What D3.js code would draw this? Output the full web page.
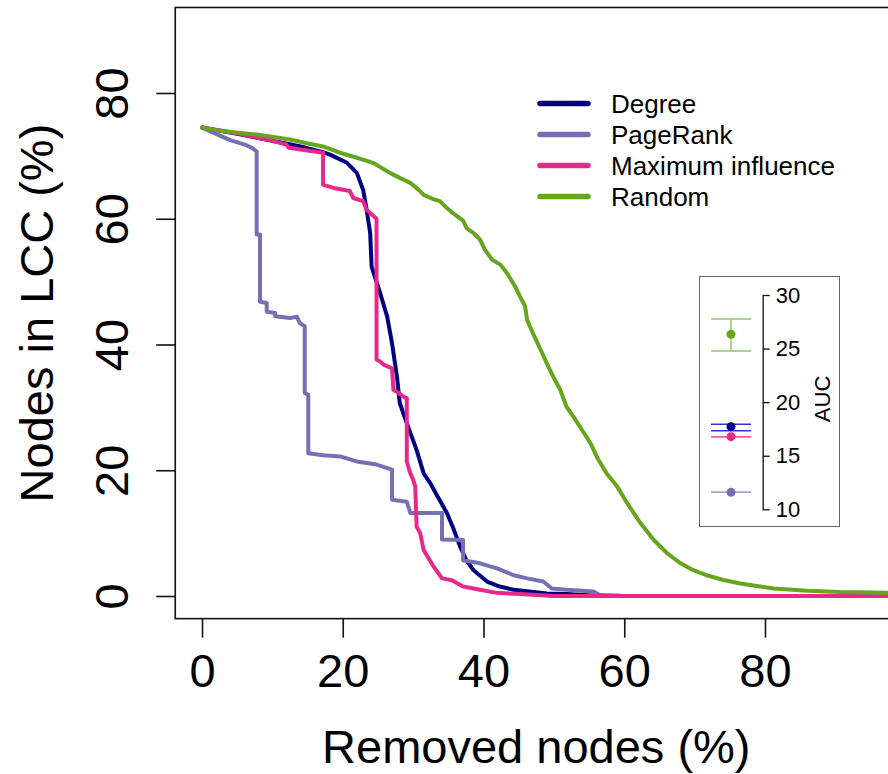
<!DOCTYPE html>
<html>
<head>
<meta charset="utf-8">
<script src="https://cdn.jsdelivr.net/npm/d3@7"></script>
<style>
  html, body { margin: 0; padding: 0; background: #fff; }
  svg { display: block; font-family: "Liberation Sans", Arial, Helvetica, sans-serif; }
</style>
</head>
<body>
<svg id="chart" width="888" height="774"></svg>
<script>
// Attack strategies, shown in legend order
const strategies = ["Degree", "PageRank", "Maximum influence", "Random"];
const colors = ["#000080", "#7570B3", "#E7298A", "#66A61E"];
const capColors = ["#3535c8", "#a7a4d4", "#ee5fa0", "#94c66a"];

// [removed nodes %, nodes in LCC %]
const degree = [[0,74.5],[5,73.5],[10,72.4],[14,71.5],[17.2,70.6],[18.2,70.2],[20.6,68.9],[22.0,67.3],[22.9,64.6],[23.4,61.4],[23.9,57.7],[24.1,52.4],[25.3,48.2],[26.3,44.5],[27.0,40.2],[27.7,34.9],[28.1,30.7],[29.1,27.5],[30.5,23.2],[31.5,19.5],[32.4,18.0],[33.4,16.0],[34.8,13.2],[35.7,10.8],[36.7,7.8],[37.6,5.6],[38.6,4.1],[40.5,2.3],[42.3,1.5],[44.3,1.0],[49.0,0.4],[51.8,0.3],[55,0.1],[60,0],[100,0]];

const pagerank = [[0,74.5],[4.0,72.5],[6.1,71.8],[7.06,71.3],[7.77,70.7],[7.77,57.5],[8.24,57.5],[8.24,46.8],[9.2,46.6],[9.2,45.2],[10.4,45.0],[10.4,44.5],[12.5,44.2],[13.5,44.4],[13.9,43.4],[14.6,42.9],[14.6,32.3],[15.1,32.0],[15.1,22.7],[17.2,22.4],[19.6,22.2],[22.0,21.4],[24.8,20.9],[27.0,20.1],[27.0,15.3],[29.1,15.0],[29.6,13.2],[34.1,13.2],[34.1,9.0],[37.1,8.9],[37.1,5.7],[39.5,5.2],[41.9,4.4],[44.3,3.3],[46.2,2.8],[48.5,2.3],[49.7,1.2],[51.8,1.0],[55.6,0.7],[56.6,0.1],[60,0],[100,0]];

const maxInfluence = [[0,74.5],[5,73.6],[10,72.4],[12.0,71.8],[12.3,71.3],[17.2,70.5],[17.2,65.4],[18.7,64.9],[21.0,64.4],[21.5,63.3],[22.9,62.8],[23.4,61.4],[23.9,60.9],[24.8,60.0],[24.8,37.6],[25.3,37.3],[25.8,36.8],[27.0,36.2],[27.2,32.8],[27.9,32.3],[28.9,31.5],[29.1,31.5],[29.1,21.4],[29.6,19.5],[30.0,18.5],[30.3,17.4],[30.5,11.0],[31.0,10.0],[31.5,7.3],[32.9,4.7],[34.1,2.8],[35.5,2.5],[37.1,1.5],[39.5,1.0],[41.9,0.5],[45.2,0.3],[50,0],[100,0]];

const random = [[0,74.5],[3.0,73.9],[7.8,73.4],[12.5,72.6],[14.9,72.0],[17.2,71.5],[19.6,70.5],[22.0,69.7],[24.3,68.9],[26.7,67.3],[28.1,66.5],[29.6,65.7],[30.8,64.6],[31.5,63.8],[32.9,63.1],[33.8,62.8],[34.8,61.7],[36.0,60.6],[37.1,59.7],[37.6,58.5],[38.6,57.7],[39.5,56.7],[40.2,55.1],[41.2,53.5],[42.4,52.7],[43.3,51.4],[44.5,49.2],[45.2,47.6],[45.9,46.1],[46.2,43.9],[46.9,42.1],[48.1,39.2],[49.0,37.0],[49.9,34.9],[50.9,32.8],[51.8,30.1],[52.8,28.5],[54.0,26.4],[55.2,24.3],[56.3,21.7],[57.5,19.5],[59.0,17.4],[60.4,14.8],[62.3,11.6],[64.2,8.9],[66.1,6.8],[68.0,5.2],[69.8,4.1],[71.7,3.3],[74.1,2.55],[76.5,2.0],[78.8,1.6],[81.2,1.2],[86.0,0.85],[90.7,0.64],[97.5,0.53],[100,0.5]];

const seriesData = [degree, pagerank, maxInfluence, random];

// Area under the curve per strategy: mean, lower, upper
const aucMean  = [17.71, 11.58, 16.78, 26.33];
const aucLower = [17.32, 11.58, 16.78, 24.77];
const aucUpper = [17.94, 11.58, 16.78, 27.76];

const xTicks = [0, 20, 40, 60, 80];
const yTicks = [0, 20, 40, 60, 80];
const aucTicks = [10, 15, 20, 25, 30];

const svg = d3.select("#chart");

// Main panel scales (axis limits 0-95 and 0-90, each padded by 4%)
const x = d3.scaleLinear().domain([0, 80]).range([202, 765]);
const y = d3.scaleLinear().domain([0, 80]).range([596, 93]);
const xLim = [0, 95], yLim = [0, 90];
const xPad = (xLim[1] - xLim[0]) * 0.04, yPad = (yLim[1] - yLim[0]) * 0.04;
const box = {
  x0: x(xLim[0] - xPad), x1: x(xLim[1] + xPad),
  y0: y(yLim[1] + yPad), y1: y(yLim[0] - yPad)
};

svg.append("clipPath").attr("id", "plotClip")
  .append("rect")
  .attr("x", box.x0).attr("y", box.y0)
  .attr("width", box.x1 - box.x0).attr("height", box.y1 - box.y0);

// Curves
const line = d3.line().x(d => x(d[0])).y(d => y(d[1]));
const curves = svg.append("g").attr("clip-path", "url(#plotClip)");
seriesData.forEach((s, i) => {
  curves.append("path")
    .datum(s)
    .attr("d", line)
    .attr("fill", "none")
    .attr("stroke", colors[i])
    .attr("stroke-width", 4)
    .attr("stroke-linejoin", "round")
    .attr("stroke-linecap", "round");
});

// Plot frame
svg.append("rect")
  .attr("x", box.x0).attr("y", box.y0)
  .attr("width", box.x1 - box.x0).attr("height", box.y1 - box.y0)
  .attr("fill", "none").attr("stroke", "#111").attr("stroke-width", 1.6);

// Y axis
const yAxis = svg.append("g")
  .attr("transform", `translate(${box.x0},0)`)
  .call(d3.axisLeft(y).tickValues(yTicks).tickSize(19).tickSizeOuter(0));
yAxis.select(".domain").remove();
yAxis.selectAll(".tick line").attr("stroke", "#111").attr("stroke-width", 1.6);
yAxis.selectAll(".tick text")
  .attr("x", null).attr("dy", null)
  .attr("text-anchor", "middle")
  .attr("transform", "translate(-47,0) rotate(-90)")
  .attr("fill", "#000")
  .style("font-size", "47px");

// X axis
const xAxis = svg.append("g")
  .attr("transform", `translate(0,${box.y1})`)
  .call(d3.axisBottom(x).tickValues(xTicks).tickSize(19).tickSizeOuter(0));
xAxis.select(".domain").remove();
xAxis.selectAll(".tick line").attr("stroke", "#111").attr("stroke-width", 1.6);
xAxis.selectAll(".tick text")
  .attr("y", 68).attr("dy", null)
  .attr("fill", "#000")
  .style("font-size", "47px");

// Axis titles
svg.append("text")
  .attr("x", (box.x0 + box.x1) / 2).attr("y", 763)
  .attr("text-anchor", "middle")
  .style("font-size", "47px")
  .text("Removed nodes (%)");

svg.append("text")
  .attr("transform", `translate(53,${(box.y0 + box.y1) / 2}) rotate(-90)`)
  .attr("text-anchor", "middle")
  .style("font-size", "47px")
  .text("Nodes in LCC (%)");

// Legend
const legendY = d3.scaleLinear().domain([0, 1]).range([103.5, 134.5]);
const legend = svg.append("g");
strategies.forEach((name, i) => {
  legend.append("line")
    .attr("x1", 540).attr("x2", 588)
    .attr("y1", legendY(i)).attr("y2", legendY(i))
    .attr("stroke", colors[i]).attr("stroke-width", 5.5)
    .attr("stroke-linecap", "round");
  legend.append("text")
    .attr("x", 611).attr("y", legendY(i) + 9)
    .style("font-size", "26px")
    .text(name);
});

// AUC inset
const inset = svg.append("g");
inset.append("rect")
  .attr("x", 699.5).attr("y", 276.5).attr("width", 140).attr("height", 250)
  .attr("fill", "#fff").attr("stroke", "#666").attr("stroke-width", 1);

const aucY = d3.scaleLinear().domain([10, 30]).range([509.3, 295]);
const aucX = 731;
const capHalf = 20;

const aucAxis = inset.append("g")
  .attr("transform", "translate(762.7,0)")
  .call(d3.axisRight(aucY).tickValues(aucTicks).tickSize(7).tickSizeOuter(0).tickPadding(6));
aucAxis.select(".domain").attr("stroke", "#111").attr("stroke-width", 1.3);
aucAxis.selectAll(".tick line").attr("stroke", "#111").attr("stroke-width", 1.3);
aucAxis.selectAll(".tick text").attr("fill", "#000").style("font-size", "22px");

inset.append("text")
  .attr("transform", `translate(830,${aucY(20.3)}) rotate(-90)`)
  .attr("text-anchor", "middle")
  .style("font-size", "22px")
  .text("AUC");

// Draw Random first, then Degree, Maximum influence, PageRank
[3, 0, 2, 1].forEach(i => {
  const g = inset.append("g");
  [aucLower[i], aucUpper[i]].forEach(v => {
    g.append("line")
      .attr("x1", aucX - capHalf).attr("x2", aucX + capHalf)
      .attr("y1", aucY(v)).attr("y2", aucY(v))
      .attr("stroke", capColors[i]).attr("stroke-width", 1.5);
  });
  g.append("line")
    .attr("x1", aucX).attr("x2", aucX)
    .attr("y1", aucY(aucLower[i])).attr("y2", aucY(aucUpper[i]))
    .attr("stroke", capColors[i]).attr("stroke-width", 1.5);
  g.append("circle")
    .attr("cx", aucX).attr("cy", aucY(aucMean[i])).attr("r", 4.5)
    .attr("fill", colors[i]);
});
</script>
</body>
</html>
